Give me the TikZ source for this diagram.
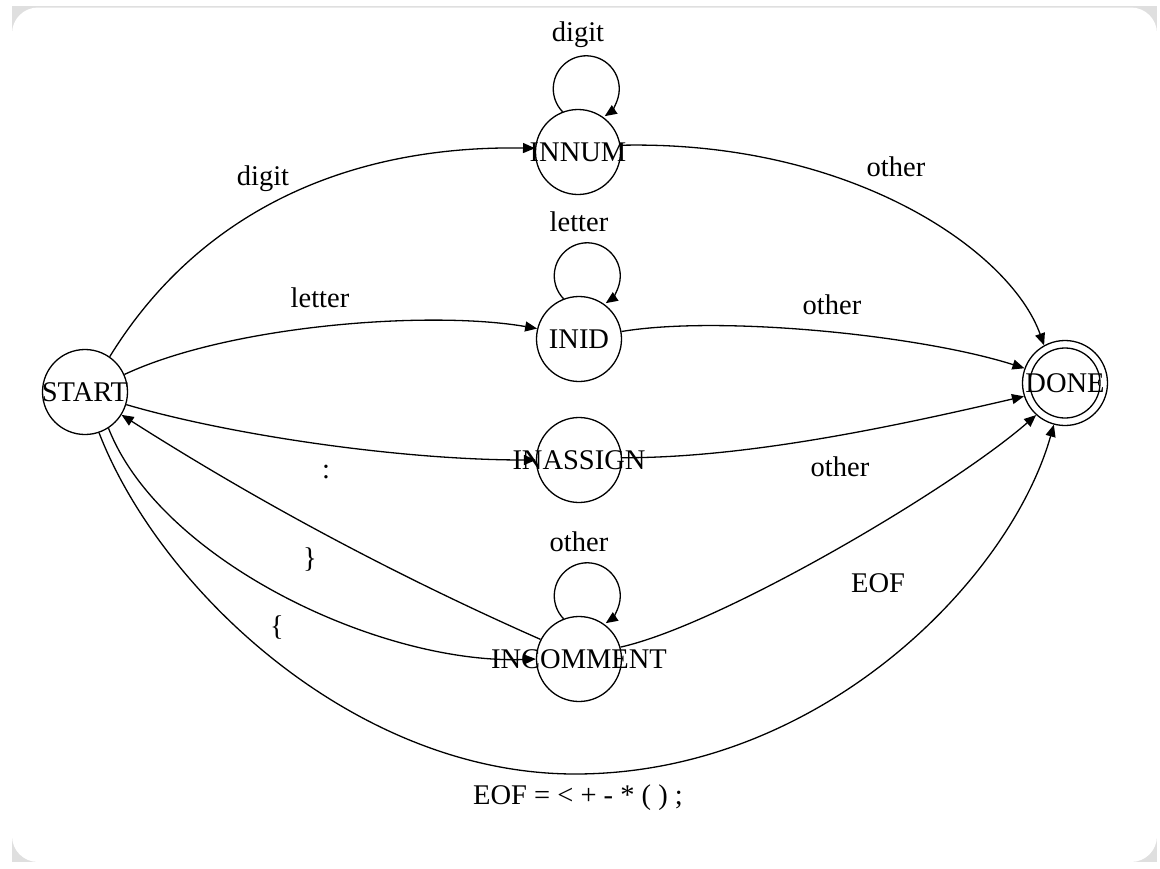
\documentclass[tikz,border=0pt]{standalone}
\usepackage{fontspec}
\setmainfont{Liberation Serif}
\usetikzlibrary{arrows.meta}

% keep a state's text from widening its circle
\newcommand{\statelabel}[1]{\makebox[0pt]{#1}}

\begin{document}
\begin{tikzpicture}[x=1pt, y=-1pt, >={Triangle[length=12pt,width=10pt]},
  every node/.style={font=\fontsize{28.5}{33}\selectfont},
  statenode/.style={circle, draw, line width=1.3pt, minimum size=85pt, inner sep=0pt},
  trans/.style={->, line width=1.3pt}]
  % card
  \fill[gray!25] (12,6) rectangle (1157,862);
  \fill[white, rounded corners=26pt] (12,7.5) rectangle (1157,862);
  \useasboundingbox (0,0) rectangle (1160,868);

  % states
  \node[statenode] (start) at (85,392) {\statelabel{START}};
  \node[statenode] (innum) at (578,152) {\statelabel{INNUM}};
  \node[statenode] (inid) at (579,339) {\statelabel{INID}};
  \node[statenode] (inassign) at (579,460) {\statelabel{INASSIGN}};
  \node[statenode] (incomment) at (579,659) {\statelabel{INCOMMENT}};
  \node[statenode] (done) at (1065,383) {\statelabel{DONE}};
  \draw[line width=1.3pt] (done.center) circle[radius=35];

  % out of START
  \draw[trans] (start.55) .. controls (200,210) and (350,145) .. (innum.175);
  \draw[trans] (start.24) .. controls (230,325) and (430,310) .. (inid.166);
  \draw[trans] (start.-17) .. controls (230,435) and (400,460) .. (inassign.180);
  \draw[trans] (start.-57) .. controls (160,560) and (380,665) .. (incomment.180);
  \draw[trans] (incomment.153) .. controls (397,576) and (260,503) .. (start.-32);
  \draw[trans] (start.-71) .. controls (160,590) and (355,774) .. (575,774)
        .. controls (820,774) and (1010,580) .. (done.-105);

  % into DONE
  \draw[trans] (innum.9) .. controls (850,140) and (1010,250) .. (done.119);
  \draw[trans] (inid.10) .. controls (720,315) and (920,335) .. (done.160);
  \draw[trans] (inassign.3) .. controls (750,458) and (900,425) .. (done.198);
  \draw[trans] (incomment.16) .. controls (720,625) and (950,490) .. (done.228);

  % self loops (round, sitting on the top of the state)
  \foreach \s/\lbl in {innum/digit, inid/letter, incomment/other} {
    \draw[trans] (\s.111) arc[start angle=136, end angle=416, radius=33];
    \node (\s-lbl) at ([yshift=74pt]\s.north) {\lbl};
  }

  % edge labels
  \node (lbl-digit) at (263,179) {digit};
  \node (lbl-letter) at (320,298) {letter};
  \node (lbl-colon) at (326,472) {:};
  \node (lbl-close) at (310,560) {\}};
  \node (lbl-open) at (277,628) {\{};
  \node (lbl-numother) at (896,167) {other};
  \node (lbl-idother) at (832,305) {other};
  \node (lbl-asother) at (840,467) {other};
  \node (lbl-eof) at (878,583) {EOF};
  \node (lbl-eofset) at (578,798) {EOF = < + - * ( ) ;};
\end{tikzpicture}
\end{document}
